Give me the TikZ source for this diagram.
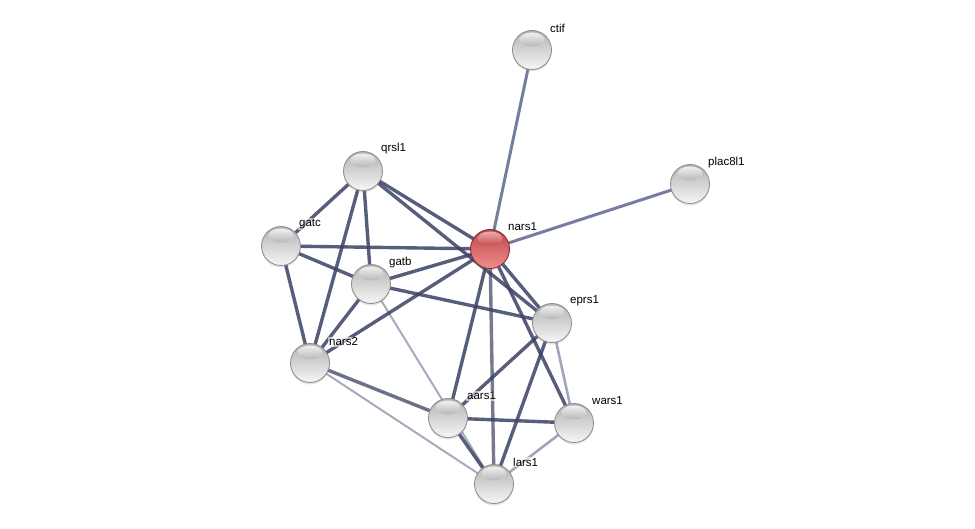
\documentclass[tikz,border=0pt]{standalone}
\usepackage{fontspec}
\setmainfont{Liberation Sans}
\usetikzlibrary{shadows,calc}
\definecolor{edark}{RGB}{58,66,100}
\definecolor{emid}{RGB}{118,126,158}
\definecolor{elight}{RGB}{150,156,180}
\definecolor{gtop}{RGB}{178,178,178}
\definecolor{gmid}{RGB}{212,212,212}
\definecolor{gbot}{RGB}{246,246,246}
\definecolor{grim}{RGB}{140,140,140}
\definecolor{rtop}{RGB}{190,68,72}
\definecolor{rmid}{RGB}{214,98,100}
\definecolor{rbot}{RGB}{238,142,142}
\definecolor{rrim}{RGB}{140,36,40}
\tikzset{
  ballbase/.style={circle, minimum size=39pt, inner sep=0pt, line width=0.8pt,
    drop shadow={shadow xshift=0pt, shadow yshift=-2pt, opacity=0.22}},
  ball/.style={ballbase, draw=grim,
    path picture={
      \shade[top color=gtop, middle color=gmid, bottom color=gbot]
        (path picture bounding box.south west) rectangle (path picture bounding box.north east);
      \shade[top color=white, bottom color=gtop, opacity=0.8]
        ($(path picture bounding box.center)+(0pt,10.5pt)$) ellipse (12.5pt and 7pt);
    }},
  redball/.style={ballbase, draw=rrim,
    path picture={
      \shade[top color=rtop, middle color=rmid, bottom color=rbot]
        (path picture bounding box.south west) rectangle (path picture bounding box.north east);
      \shade[top color=white!85!red, bottom color=rtop, opacity=0.7]
        ($(path picture bounding box.center)+(0pt,10.5pt)$) ellipse (12.5pt and 7pt);
    }},
  lbl/.style={anchor=west, inner sep=1pt, fill=white, fill opacity=0.6, text opacity=1,
    font=\fontsize{11.5}{13}\selectfont},
  strong/.style={draw=edark, draw opacity=0.85, line width=3.4pt},
  medium/.style={draw=emid, line width=3pt},
  weak/.style={draw=elight, draw opacity=0.85, line width=2pt},
  weakb/.style={draw=elight, draw opacity=0.9, line width=2.6pt}
}
\begin{document}
\begin{tikzpicture}[x=1pt,y=-1pt]
\useasboundingbox (0,0) rectangle (975,529);
% node positions
\coordinate (pctif) at (532,50);
\coordinate (pplac) at (690,184);
\coordinate (pqrsl) at (363,171);
\coordinate (pgatc) at (281,246);
\coordinate (pnars1) at (490,249);
\coordinate (pgatb) at (371,284);
\coordinate (peprs) at (552,323);
\coordinate (pnars2) at (310,363);
\coordinate (paars) at (448,418);
\coordinate (pwars) at (574,423);
\coordinate (plars) at (494,484);
% edges
\draw[medium] (pnars1) -- (pctif);
\draw[medium] (pnars1) -- (pplac);
\draw[weak] (pgatb) -- (plars);
\draw[weak] (pnars2) -- (plars);
\draw[weakb] (peprs) -- (pwars);
\draw[weakb] (pwars) -- (plars);
\draw[strong] (pqrsl) -- (peprs);
\draw[strong] (pnars1) -- (pqrsl);
\draw[strong] (pnars1) -- (pgatc);
\draw[strong] (pnars1) -- (pgatb);
\draw[strong] (pnars1) -- (pnars2);
\draw[strong] (pnars1) -- (peprs);
\draw[strong] (pnars1) -- (paars);
\draw[strong, draw opacity=0.7] (pnars1) -- (plars);
\draw[strong] (pnars1) -- (pwars);
\draw[strong] (pqrsl) -- (pgatc);
\draw[strong] (pqrsl) -- (pgatb);
\draw[strong] (pqrsl) -- (pnars2);
\draw[strong] (pgatc) -- (pgatb);
\draw[strong] (pgatc) -- (pnars2);
\draw[strong] (pgatb) -- (pnars2);
\draw[strong] (pgatb) -- (peprs);
\draw[strong] (peprs) -- (paars);
\draw[strong] (peprs) -- (plars);
\draw[strong] (paars) -- (pwars);
\draw[strong] (paars) -- (plars);
\draw[strong, draw opacity=0.75] (pnars2) -- (paars);
% nodes
\node[ball] (ctif) at (pctif) {};
\node[ball] (plac8l1) at (pplac) {};
\node[ball] (qrsl1) at (pqrsl) {};
\node[ball] (gatc) at (pgatc) {};
\node[redball] (nars1) at (pnars1) {};
\node[ball] (gatb) at (pgatb) {};
\node[ball] (eprs1) at (peprs) {};
\node[ball] (nars2) at (pnars2) {};
\node[ball] (aars1) at (paars) {};
\node[ball] (wars1) at (pwars) {};
\node[ball] (lars1) at (plars) {};
% labels
\node[lbl] (lctif) at ($(pctif)+(17,-22)$) {ctif};
\node[lbl] (lplac) at ($(pplac)+(17,-21)$) {plac8l1};
\node[lbl] (lqrsl) at ($(pqrsl)+(17,-22)$) {qrsl1};
\node[lbl] (lgatc) at ($(pgatc)+(17,-22)$) {gatc};
\node[lbl] (lnars1) at ($(pnars1)+(17,-22)$) {nars1};
\node[lbl] (lgatb) at ($(pgatb)+(17,-21)$) {gatb};
\node[lbl] (leprs) at ($(peprs)+(17,-22)$) {eprs1};
\node[lbl] (lnars2) at ($(pnars2)+(18,-21)$) {nars2};
\node[lbl] (laars) at ($(paars)+(18,-22)$) {aars1};
\node[lbl] (lwars) at ($(pwars)+(17,-22)$) {wars1};
\node[lbl] (llars) at ($(plars)+(18,-22)$) {lars1};
\end{tikzpicture}
\end{document}
